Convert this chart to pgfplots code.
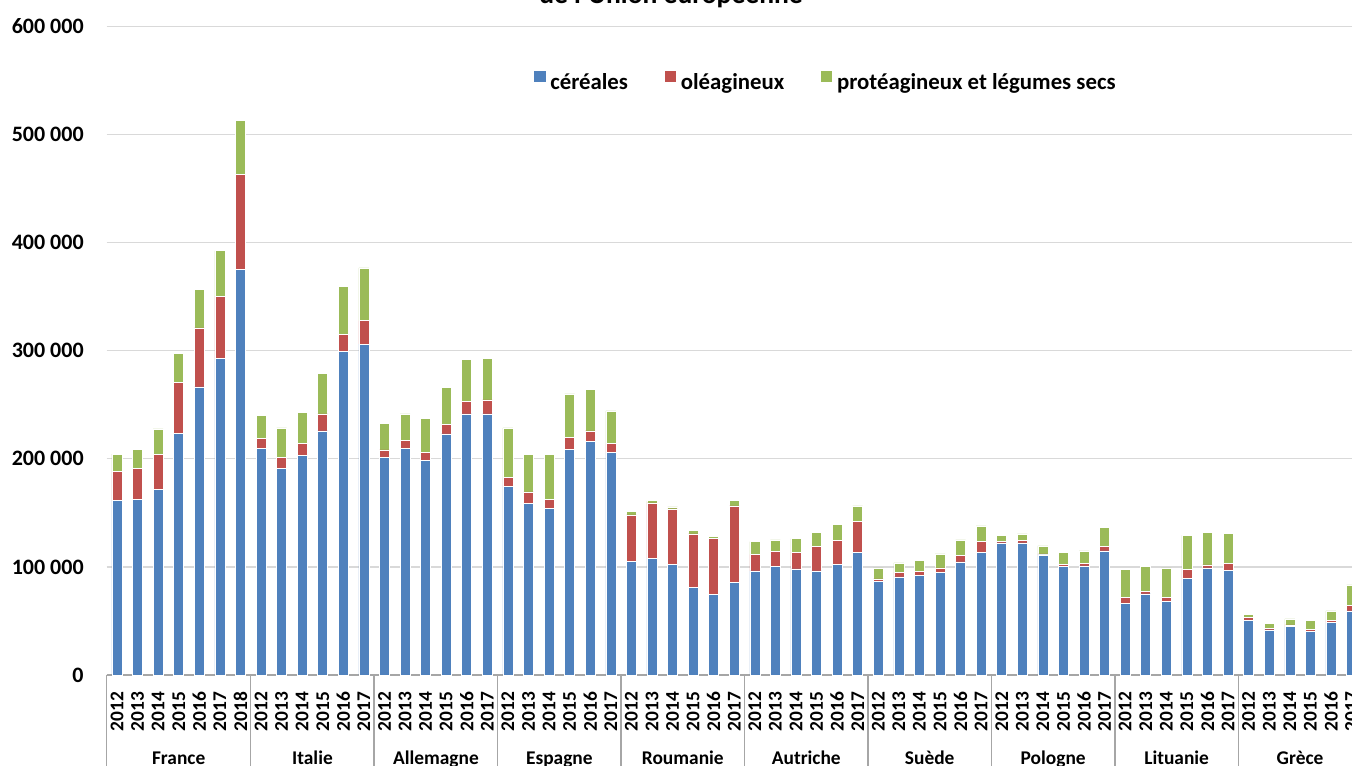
\documentclass[border=0pt]{standalone}
\usepackage{pgfplots}
\pgfplotsset{compat=1.18}
\usepackage{pgfplotstable}
\usepackage{fontspec}
\setmainfont{Carlito}
\definecolor{cblue}{HTML}{4F81BD}
\definecolor{cred}{HTML}{C0504D}
\definecolor{cgreen}{HTML}{9BBB59}
\definecolor{gridc}{HTML}{D9D9D9}
\definecolor{axc}{HTML}{A6A6A6}
\tikzset{grp/.style={anchor=base, inner sep=0pt, yshift=-44.75pt, font=\bfseries\fontsize{9.7}{11}\selectfont},
  sep/.style={axc, line width=0.7pt}}

\pgfplotstableread{
x c o p
0 161400 26800 16100
1 162400 28900 17500
2 171400 32600 23700
3 223200 47400 27100
4 266500 54600 35700
5 292600 58000 41900
6 375300 87600 50500
7 209700 9000 21600
8 191200 9800 27600
9 202900 11100 29100
10 225800 15800 37400
11 299100 15800 44500
12 306200 21700 48800
13 201000 7200 24700
14 209700 7100 24800
15 198600 7100 31500
16 223000 8700 34300
17 241600 11400 39000
18 241600 13000 38600
19 174500 8000 46100
20 158400 11100 34600
21 154000 8400 41700
22 208800 11100 40200
23 215900 9900 38700
24 206000 8000 30400
25 105200 43000 3100
26 108000 51300 1900
27 102400 51300 1900
28 80700 49800 3400
29 74900 51600 1900
30 85400 71100 4700
31 96300 15400 11800
32 100600 13900 10500
33 98100 15500 12600
34 96300 22800 13000
35 102200 22500 14500
36 113600 28700 14200
37 86400 2500 10200
38 90700 4400 8600
39 92000 4000 10200
40 95100 4000 12900
41 104600 6200 14200
42 113600 9900 14500
43 122200 1300 5800
44 122200 2500 5900
45 111100 900 7400
46 100600 1600 11100
47 100900 2500 11400
48 114800 4300 17300
49 66400 5500 25600
50 75000 2500 23100
51 67900 4000 27200
52 89200 8600 31500
53 99100 2800 30200
54 96600 6800 27600
55 50300 3100 2500
56 41700 1500 4300
57 44800 1500 5600
58 40700 1300 8600
59 48800 1800 8700
60 59300 5200 18800
}\data

\begin{document}
\begin{tikzpicture}[x=1pt,y=1pt]
\begin{axis}[
  at={(53.35pt,45pt)}, anchor=south west,
  width=627.55pt, height=324.25pt, scale only axis,
  xmin=-0.5, xmax=60.5, ymin=0, ymax=600000,
  ybar stacked, bar width=5pt,
  axis line style={draw=none},
  major tick length=0pt,
  ymajorgrids, grid style={gridc, line width=0.6pt},
  scaled y ticks=false,
  ytick={0,100000,200000,300000,400000,500000,600000},
  yticklabels={0,100 000,200 000,300 000,400 000,500 000,600 000},
  yticklabel style={font=\bfseries\fontsize{11}{13}\selectfont, anchor=east, xshift=-8pt},
  xtick={0,...,60},
  xticklabels={2012,2013,2014,2015,2016,2017,2018,
    2012,2013,2014,2015,2016,2017,
    2012,2013,2014,2015,2016,2017,
    2012,2013,2014,2015,2016,2017,
    2012,2013,2014,2015,2016,2017,
    2012,2013,2014,2015,2016,2017,
    2012,2013,2014,2015,2016,2017,
    2012,2013,2014,2015,2016,2017,
    2012,2013,2014,2015,2016,2017,
    2012,2013,2014,2015,2016,2017},
  xticklabel style={font=\bfseries\fontsize{9.7}{11}\selectfont, yshift=-5pt, rotate=90, anchor=east},
  legend columns=3,
  legend style={draw=none, fill=none, inner sep=0pt, outer sep=0pt,
    font=\bfseries\fontsize{11.4}{13}\selectfont,
    at={(0.3397,0.9135)}, anchor=west,
    /tikz/every even column/.append style={column sep=15.8pt}},
  legend cell align=left,
  legend image code/.code={\fill[#1] (0pt,0pt) rectangle (6.3pt,6.3pt);},
  clip=false,
]
\addplot[fill=cblue, draw=white, line width=0.3pt] table[x=x,y=c]{\data};
\addlegendentry{céréales}
\addplot[fill=cred, draw=white, line width=0.3pt] table[x=x,y=o]{\data};
\addlegendentry{oléagineux}
\addplot[fill=cgreen, draw=white, line width=0.3pt] table[x=x,y=p]{\data};
\addlegendentry{protéagineux et légumes secs}

\draw[axc, line width=0.8pt] (axis cs:-0.5,0) -- (axis cs:60.5,0);
\draw[sep] (axis cs:-0.5,0) -- ([yshift=-50pt]axis cs:-0.5,0);
\draw[sep] (axis cs:6.5,0) -- ([yshift=-50pt]axis cs:6.5,0);
\draw[sep] (axis cs:12.5,0) -- ([yshift=-50pt]axis cs:12.5,0);
\draw[sep] (axis cs:18.5,0) -- ([yshift=-50pt]axis cs:18.5,0);
\draw[sep] (axis cs:24.5,0) -- ([yshift=-50pt]axis cs:24.5,0);
\draw[sep] (axis cs:30.5,0) -- ([yshift=-50pt]axis cs:30.5,0);
\draw[sep] (axis cs:36.5,0) -- ([yshift=-50pt]axis cs:36.5,0);
\draw[sep] (axis cs:42.5,0) -- ([yshift=-50pt]axis cs:42.5,0);
\draw[sep] (axis cs:48.5,0) -- ([yshift=-50pt]axis cs:48.5,0);
\draw[sep] (axis cs:54.5,0) -- ([yshift=-50pt]axis cs:54.5,0);

\node[grp] at (axis cs:3,0) {France};
\node[grp] at (axis cs:9.5,0) {Italie};
\node[grp] at (axis cs:15.5,0) {Allemagne};
\node[grp] at (axis cs:21.5,0) {Espagne};
\node[grp] at (axis cs:27.5,0) {Roumanie};
\node[grp] at (axis cs:33.5,0) {Autriche};
\node[grp] at (axis cs:39.5,0) {Suède};
\node[grp] at (axis cs:45.5,0) {Pologne};
\node[grp] at (axis cs:51.5,0) {Lituanie};
\node[grp] at (axis cs:57.5,0) {Grèce};
\end{axis}
\node[anchor=base, inner sep=0pt, font=\bfseries\fontsize{13.8}{16}\selectfont] at (335.5,380.5) {de l'Union européenne};
\pgfresetboundingbox
\useasboundingbox (0,0) rectangle (676,382.5);
\end{tikzpicture}
\end{document}
